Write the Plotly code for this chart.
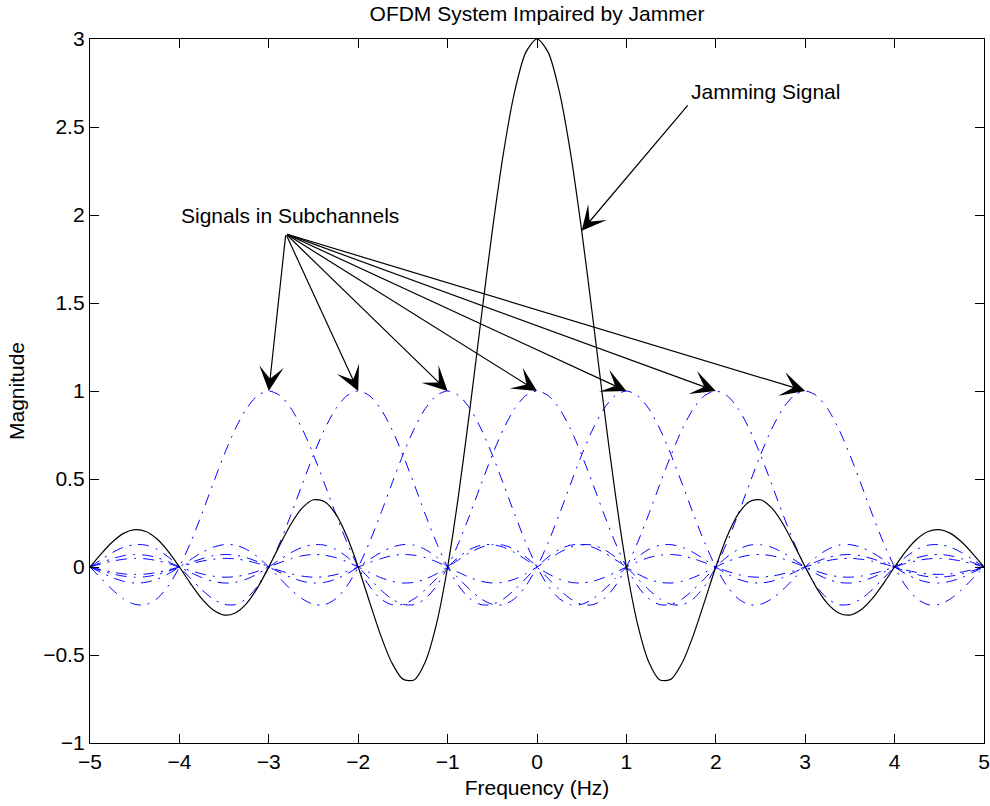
import plotly.graph_objects as go

# ---- data ----
freq = [-5.0, -4.875, -4.75, -4.625, -4.5, -4.375, -4.25, -4.125,
        -4.0, -3.875, -3.75, -3.625, -3.5, -3.375, -3.25, -3.125,
        -3.0, -2.875, -2.75, -2.625, -2.5, -2.375, -2.25, -2.125,
        -2.0, -1.875, -1.75, -1.625, -1.5, -1.375, -1.25, -1.125,
        -1.0, -0.875, -0.75, -0.625, -0.5, -0.375, -0.25, -0.125,
        0.0,
        0.125, 0.25, 0.375, 0.5, 0.625, 0.75, 0.875, 1.0,
        1.125, 1.25, 1.375, 1.5, 1.625, 1.75, 1.875, 2.0,
        2.125, 2.25, 2.375, 2.5, 2.625, 2.75, 2.875, 3.0,
        3.125, 3.25, 3.375, 3.5, 3.625, 3.75, 3.875, 4.0,
        4.125, 4.25, 4.375, 4.5, 4.625, 4.75, 4.875, 5.0]

jammer = [0.0, 0.075, 0.142, 0.191, 0.212, 0.202, 0.159, 0.089,
          0.0, -0.094, -0.180, -0.243, -0.273, -0.261, -0.208, -0.117,
          0.0, 0.127, 0.246, 0.336, 0.382, 0.371, 0.300, 0.172,
          0.0, -0.195, -0.386, -0.543, -0.637, -0.642, -0.540, -0.325,
          0.0, 0.418, 0.900, 1.412, 1.910, 2.353, 2.701, 2.924,
          3.0,
          2.924, 2.701, 2.353, 1.910, 1.412, 0.900, 0.418, 0.0,
          -0.325, -0.540, -0.642, -0.637, -0.543, -0.386, -0.195, 0.0,
          0.172, 0.300, 0.371, 0.382, 0.336, 0.246, 0.127, 0.0,
          -0.117, -0.208, -0.261, -0.273, -0.243, -0.180, -0.094, 0.0,
          0.089, 0.159, 0.202, 0.212, 0.191, 0.142, 0.075, 0.0]

# subchannel pulse magnitude vs. distance from its centre (0, 0.125, ... 8 Hz)
pulse_step = 0.125
pulse_shape = [1.0, 0.974, 0.900, 0.784, 0.637, 0.471, 0.300, 0.139,
               0.0, -0.108, -0.180, -0.214, -0.212, -0.181, -0.129, -0.065,
               0.0, 0.057, 0.100, 0.124, 0.127, 0.112, 0.082, 0.042,
               0.0, -0.039, -0.069, -0.087, -0.091, -0.081, -0.060, -0.031,
               0.0, 0.030, 0.053, 0.067, 0.071, 0.064, 0.047, 0.025,
               0.0, -0.024, -0.043, -0.055, -0.058, -0.052, -0.039, -0.021,
               0.0, 0.020, 0.036, 0.046, 0.049, 0.044, 0.033, 0.018,
               0.0, -0.017, -0.031, -0.040, -0.042, -0.039, -0.029, -0.015,
               0.0]

subchannel_centers = [-3, -2, -1, 0, 1, 2, 3]

x_ticks = [-5, -4, -3, -2, -1, 0, 1, 2, 3, 4, 5]
y_ticks = [-1, -0.5, 0, 0.5, 1, 1.5, 2, 2.5, 3]

title_text = "OFDM System Impaired by Jammer"
x_title = "Frequency (Hz)"
y_title = "Magnitude"
sub_label = "Signals in Subchannels"
sub_label_pos = (-4.0, 2.0)
sub_arrow_tail = (-2.81, 1.893)
sub_arrow_tip_y = 1.0
jam_label = "Jamming Signal"
jam_label_pos = (1.70, 2.70)
jam_arrow_tail = (1.70, 2.632)
jam_arrow_tip = (0.50, 1.91)

# ---- figure ----
FONT = "Liberation Sans, Arial, Helvetica, sans-serif"
FS = 21

fig = go.Figure()

for c in subchannel_centers:
    ys = [pulse_shape[int(round(abs(f - c) / pulse_step))] for f in freq]
    fig.add_trace(go.Scatter(
        x=freq, y=ys, mode="lines",
        line=dict(color="#0000ff", width=1.0, dash="11px,7px,2px,7px",
                  shape="spline", smoothing=0.8),
        showlegend=False, hoverinfo="skip"))

fig.add_trace(go.Scatter(
    x=freq, y=jammer, mode="lines",
    line=dict(color="black", width=1.2, shape="spline", smoothing=0.8),
    showlegend=False, hoverinfo="skip"))

annotations = []
annotations.append(dict(x=sub_label_pos[0], y=sub_label_pos[1], xref="x", yref="y",
                        text=sub_label, showarrow=False, xanchor="left", yanchor="middle",
                        font=dict(family=FONT, size=FS, color="black")))
annotations.append(dict(x=jam_label_pos[0], y=jam_label_pos[1], xref="x", yref="y",
                        text=jam_label, showarrow=False, xanchor="left", yanchor="middle",
                        font=dict(family=FONT, size=FS, color="black")))
for c in subchannel_centers:
    annotations.append(dict(x=c, y=sub_arrow_tip_y, xref="x", yref="y",
                            ax=sub_arrow_tail[0], ay=sub_arrow_tail[1],
                            axref="x", ayref="y", text="", showarrow=True,
                            arrowhead=3, arrowsize=3.4, arrowwidth=1.2,
                            arrowcolor="black", standoff=0))
annotations.append(dict(x=jam_arrow_tip[0], y=jam_arrow_tip[1], xref="x", yref="y",
                        ax=jam_arrow_tail[0], ay=jam_arrow_tail[1],
                        axref="x", ayref="y", text="", showarrow=True,
                        arrowhead=3, arrowsize=3.4, arrowwidth=1.2,
                        arrowcolor="black", standoff=0))

axis_common = dict(
    showline=True, linecolor="black", linewidth=1.3, mirror="ticks",
    ticks="inside", ticklen=9, tickwidth=1.1, tickcolor="black",
    showgrid=False, zeroline=False, automargin=False,
    tickfont=dict(family=FONT, size=FS, color="black"),
)

W, H = 990, 806
fig.update_layout(
    width=W, height=H,
    margin=dict(l=90, r=6, t=38.5, b=63.3),
    paper_bgcolor="white", plot_bgcolor="white",
    title=dict(text=title_text, x=0.5, xref="paper", xanchor="center",
               y=1 - 14 / H, yref="container", yanchor="middle",
               font=dict(family=FONT, size=FS, color="black")),
    xaxis=dict(range=[-5, 5], tickvals=x_ticks,
               ticktext=[str(v).replace("-", "\u2212") for v in x_ticks],
               title=dict(text=x_title, standoff=7, font=dict(family=FONT, size=FS, color="black")),
               **axis_common),
    yaxis=dict(range=[-1, 3], tickvals=y_ticks,
               ticktext=[("%g" % v).replace("-", "\u2212") for v in y_ticks],
               ticklabelstandoff=0,
               title=dict(text=y_title, standoff=12, font=dict(family=FONT, size=FS, color="black")),
               **axis_common),
    annotations=annotations,
    showlegend=False,
)

# remove the browser's default 8px page margin so the figure sits at the window corner
fig.write_html(
    "out.html",
    config={"displayModeBar": False},
    post_script="document.documentElement.style.margin='0';"
                "document.body.style.margin='0';document.body.style.padding='0';"
                "document.body.style.overflow='hidden';",
)
